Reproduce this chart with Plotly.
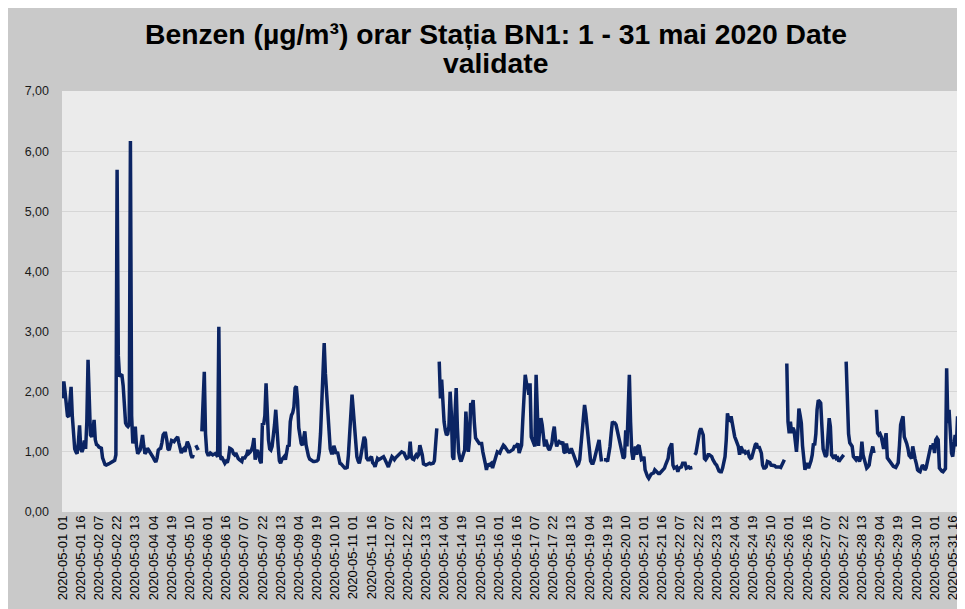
import pandas as pd
import plotly.graph_objects as go

# Hourly benzene concentrations (µg/m³), station BN1, 1-31 May 2020 (None = missing hour)
may_01 = [1.89, 2.17, 2.0, 1.81, 1.6, 1.58, 1.85, 2.08, 1.6, 1.19, 1.05, 1.0, 0.97, 1.15, 1.44, 1.05, 1.0, 1.06, 1.19, 1.05, 1.5, 2.53, 1.8, 1.28]
may_02 = [1.25, 1.35, 1.53, 1.2, 1.12, 1.11, 1.08, 1.06, 1.06, 0.9, 0.82, 0.79, 0.78, 0.8, 0.8, 0.81, 0.82, 0.83, 0.84, 0.86, 0.95, 5.69, 2.6, 2.25]
may_03 = [2.28, 2.27, 2.1, 1.64, 1.48, 1.44, 1.42, 1.45, 6.17, 1.6, 1.14, 1.3, 1.42, 1.1, 0.97, 1.0, 1.03, 1.15, 1.28, 1.1, 0.97, 1.0, 1.06, 1.03]
may_04 = [1.0, 0.97, 0.95, 0.9, 0.86, 0.83, 0.9, 1.03, 1.05, 1.06, 1.15, 1.28, 1.31, 1.31, 1.2, 1.05, 1.03, 1.12, 1.19, 1.18, 1.17, 1.2, 1.23, 1.25]
may_05 = [1.15, 1.05, 0.98, 1.03, 1.05, 1.0, 1.08, 1.17, 1.12, 1.06, 0.95, 0.9, 0.95, None, 1.11, 1.07, 1.03, None, None, 1.34, 1.8, 2.33, 1.3, 1.0]
may_06 = [0.95, 0.95, 0.98, 0.97, 0.95, 0.96, 0.97, 0.95, 0.92, 3.08, 0.95, 0.87, 0.89, 0.85, 0.81, 0.84, 0.82, 0.9, 1.06, 1.05, 1.03, 0.97, 0.95, 0.98]
may_07 = [0.93, 0.89, 0.87, 0.85, 0.84, 0.92, 0.88, 0.92, 0.95, 1.03, 0.98, 1.0, 1.03, 1.1, 1.23, 0.87, 1.0, 1.03, 0.92, 0.85, 0.81, 1.48, 1.45, 1.6]
may_08 = [2.14, 1.5, 1.2, 1.05, 1.03, 1.09, 1.25, 1.45, 1.7, 1.3, 1.09, 0.85, 0.81, 0.87, 0.9, 0.92, 0.87, 1.0, 1.11, 1.09, 1.5, 1.61, 1.65, 1.75]
may_09 = [2.06, 2.09, 1.86, 1.4, 1.2, 1.14, 1.11, 1.2, 1.34, 1.12, 1.0, 0.93, 0.88, 0.86, 0.84, 0.84, 0.84, 0.84, 0.85, 0.87, 1.0, 1.31, 1.8, 2.5]
may_10 = [2.81, 2.3, 1.95, 1.6, 1.3, 1.05, 0.98, 0.98, 1.1, 1.0, 0.97, 1.0, 0.88, 0.81, 0.8, 0.78, 0.74, 0.73, 0.73, 0.74, 0.95, 1.3, 1.7, 1.95]
may_11 = [1.7, 1.42, 1.1, 0.92, 0.85, 0.81, 0.9, 1.0, 1.15, 1.25, 1.2, 0.9, 0.87, 0.87, 0.9, 0.92, 0.82, 0.8, 0.75, 0.85, 0.89, 0.87, 0.88, 0.89]
may_12 = [0.9, 0.92, 0.88, 0.84, 0.8, 0.75, 0.81, 0.87, 0.92, 0.9, 0.87, 0.9, 0.92, 0.94, 0.95, 0.98, 1.0, 0.99, 0.98, 0.93, 0.89, 0.9, 0.92, 1.17]
may_13 = [0.92, 0.88, 0.87, 0.92, 0.95, 0.92, 0.95, 1.11, 1.05, 0.95, 0.8, 0.78, 0.78, 0.79, 0.81, 0.81, 0.8, 0.81, 0.81, 0.85, 1.09, 1.39, None, 2.5]
may_14 = [1.89, 2.2, 1.75, 1.5, 1.36, 1.28, 1.3, 1.42, 2.0, 1.64, 0.92, 0.87, 1.6, 2.06, 1.4, 1.0, 0.89, 0.84, 0.9, 0.95, 1.03, 1.67, 1.2, 1.0]
may_15 = [1.2, 1.81, 1.75, 1.86, 1.48, 1.23, 1.2, 1.17, 1.14, 1.14, 1.14, 1.0, 0.92, 0.81, 0.7, 0.8, 0.78, 0.79, 0.81, 0.73, 0.8, 0.87, 0.95, 1.0]
may_16 = [0.99, 0.98, 1.03, 1.08, 1.11, 1.09, 1.06, 1.03, 1.0, 1.0, 1.02, 1.03, 1.04, 1.09, 1.09, 1.11, 1.14, 0.98, 1.05, 1.11, 1.53, 1.9, 2.28, 2.15]
may_17 = [2.09, 1.95, 2.14, 1.25, 1.18, 1.14, 1.09, 2.28, 1.5, 1.1, 1.4, 1.56, 1.45, 1.31, 1.09, 1.2, 1.1, 1.06, 1.03, 1.1, 1.14, 1.31, 1.42, 1.2]
may_18 = [1.09, 1.14, 1.17, 1.15, 1.14, 1.17, 1.0, 0.98, 1.14, 1.02, 1.0, 0.98, 1.06, 1.0, 0.95, 0.87, 0.81, 0.78, 0.8, 0.87, 1.1, 1.35, 1.53, 1.78]
may_19 = [1.64, 1.45, 1.31, 1.0, 0.85, 0.81, 0.81, 0.87, 0.95, 1.03, 1.14, 1.2, 1.0, 0.84, None, 0.87, 0.87, 0.87, 0.84, 0.95, 1.09, 1.31, 1.5, 1.48]
may_20 = [1.48, 1.45, 1.35, 1.31, 1.14, 1.09, 1.0, 0.89, 0.92, 1.36, 1.09, 1.6, 2.28, 1.5, 1.0, 0.87, 1.0, 1.09, 0.95, 1.09, 1.11, 0.95, 0.87, 0.88]
may_21 = [0.92, 0.7, 0.62, 0.59, 0.56, 0.6, 0.63, 0.64, 0.65, 0.7, 0.68, 0.65, 0.64, 0.64, 0.66, 0.67, 0.7, 0.73, 0.79, 0.85, 0.89, 1.05, 1.11, 1.14]
may_22 = [0.78, 0.73, 0.74, 0.75, 0.67, 0.73, 0.74, 0.75, 0.81, 0.81, 0.81, 0.73, 0.74, 0.75, 0.73, 0.73, 0.74, None, 0.95, 0.98, 1.1, 1.28, 1.34, 1.39]
may_23 = [1.35, 1.28, 0.89, 0.87, 0.9, 0.95, 0.95, 0.94, 0.92, 0.87, 0.82, 0.8, 0.78, 0.73, 0.68, 0.67, 0.67, 0.73, 0.85, 0.92, 1.2, 1.64, 1.55, 1.53]
may_24 = [1.59, 1.45, 1.3, 1.25, 1.2, 1.15, 1.09, 0.95, 1.09, 1.05, 0.98, 1.03, 0.98, 0.99, 1.0, 0.92, 0.89, 0.9, 0.98, 1.09, 1.12, 1.14, 1.06, 1.09]
may_25 = [1.05, 0.98, 0.78, 0.73, 0.73, 0.75, 0.84, 0.83, 0.82, 0.78, 0.78, 0.78, 0.77, 0.75, 0.75, 0.76, 0.75, 0.74, 0.78, 0.84, 0.87, None, 2.47, 1.5]
may_26 = [1.31, 1.5, 1.31, 1.4, 1.36, 1.2, 1.0, 1.3, 1.72, 1.61, 1.48, 1.1, 0.81, 0.7, 0.78, 0.81, 0.73, 0.78, 0.85, 0.95, 1.14, 1.11, 1.3, 1.7]
may_27 = [1.86, 1.84, 1.81, 1.42, 1.05, 0.98, 0.92, 0.95, 1.3, 1.56, 1.42, 0.95, 0.92, 0.89, 0.95, 0.89, 0.9, 0.84, 0.87, 0.9, 0.92, 0.95, None, 2.5]
may_28 = [1.6, 1.3, 1.15, 1.11, 1.09, 0.92, 0.89, 0.87, 0.92, 0.87, 0.84, 0.9, 1.17, 0.95, 0.87, 0.81, 0.73, 0.75, 0.78, 0.92, 1.0, 1.09, 0.98, None]
may_29 = [1.7, 1.31, 1.28, 1.3, 1.25, 1.1, 1.05, 1.2, 1.31, 0.9, 0.87, 0.84, 0.82, 0.78, 0.76, 0.75, 0.74, 0.78, 0.82, 1.1, 1.45, 1.53, 1.59, 1.25]
may_30 = [1.2, 1.14, 1.06, 0.94, 0.92, 0.89, 1.09, 0.95, 0.88, 0.8, 0.7, 0.68, 0.67, 0.73, 0.78, 0.75, 0.7, 0.73, 0.82, 0.87, 1.0, 1.11, 1.05, 1.14]
may_31 = [0.98, 1.2, 1.23, 1.2, 0.73, 0.7, 0.68, 0.67, 0.7, 0.72, 2.39, 1.48, 1.7, 1.2, 0.98, 0.92, 1.1, 1.28, 1.09, 1.59, 1.45, 1.31, 0.92, 1.28]

daily_lists = [may_01, may_02, may_03, may_04, may_05, may_06, may_07, may_08, may_09, may_10,
               may_11, may_12, may_13, may_14, may_15, may_16, may_17, may_18, may_19, may_20,
               may_21, may_22, may_23, may_24, may_25, may_26, may_27, may_28, may_29, may_30, may_31]
benzen = [v for day in daily_lists for v in day]

# Category labels: one per hour, starting 2020-05-01 01
hours = [t.strftime("%Y-%m-%d %H") for t in pd.date_range("2020-05-01 01:00", periods=len(benzen), freq="h")]
tick_labels = hours[::15]

title_line1 = "Benzen (µg/m³) orar Stația BN1: 1 - 31 mai 2020 Date"
title_line2 = "validate"

FONT = "Liberation Sans, Arial, sans-serif"
M_L, M_R, M_T, M_B = 54, 10, 83, 105
PLOT_W = 965 - M_L - M_R
PLOT_H = 609 - M_T - M_B

fig = go.Figure()
fig.add_trace(go.Scatter(
    x=hours, y=benzen, mode="lines",
    line=dict(color="#0b2463", width=3.5),
    connectgaps=False, hoverinfo="x+y", showlegend=False,
))

fig.update_layout(
    width=965, height=609,
    margin=dict(l=M_L, r=M_R, t=M_T, b=M_B, autoexpand=False),
    paper_bgcolor="#c9c9c9",
    plot_bgcolor="#ebebeb",
    separators=", ",
    font=dict(family=FONT, color="#000000"),
    xaxis=dict(
        type="category", automargin=False,
        tickmode="array", tickvals=tick_labels, ticktext=tick_labels,
        tickangle=-90, tickfont=dict(size=13, color="#000000"),
        showgrid=False, zeroline=False, showline=False, ticks="",
        range=[-0.5, len(benzen) - 0.5],
    ),
    yaxis=dict(
        automargin=False,
        range=[0, 7], dtick=1, tick0=0, tickformat=".2f",
        tickfont=dict(size=12.5, color="#1a1a1a"),
        gridcolor="#d6d6d6", gridwidth=1,
        zeroline=False, showline=False, ticks="",
        ticklabelstandoff=12,
    ),
    annotations=[
        dict(text="<b>%s</b>" % title_line1, xref="paper", yref="paper",
             x=(487.5 - M_L) / PLOT_W, y=1 + (M_T - 26) / PLOT_H, xanchor="center", yanchor="middle",
             showarrow=False, font=dict(size=28.3, family=FONT, color="#000000")),
        dict(text="<b>%s</b>" % title_line2, xref="paper", yref="paper",
             x=(487.5 - M_L) / PLOT_W, y=1 + (M_T - 55) / PLOT_H, xanchor="center", yanchor="middle",
             showarrow=False, font=dict(size=28.3, family=FONT, color="#000000")),
    ],
)

fig.write_html("out.html")
